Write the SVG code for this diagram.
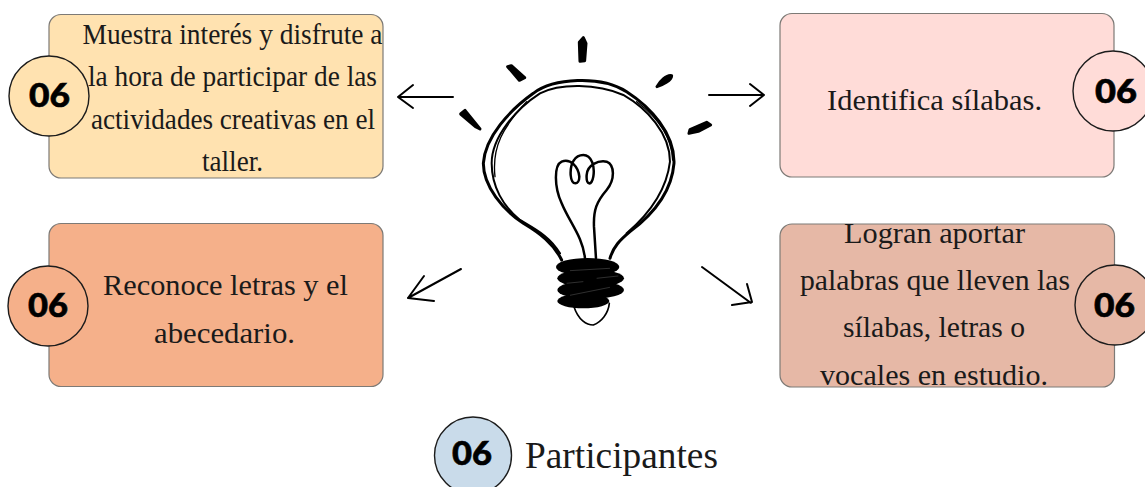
<svg xmlns="http://www.w3.org/2000/svg" width="1145" height="487" viewBox="0 0 1145 487">
<style>
.box{stroke:#7d7a76;stroke-width:1.2}
.dot{stroke:#1c1c1c;stroke-width:1.4}
.t{font-family:"Liberation Serif",serif;font-size:29px;fill:#1a1a1a}
.n{font-family:"Lato","Liberation Sans",sans-serif;font-weight:900;font-size:33px;fill:#000;stroke:#000;stroke-width:.6}
.arrow{fill:none;stroke:#000;stroke-width:2;stroke-linecap:round;stroke-linejoin:round}
.wire{fill:none;stroke:#000;stroke-linecap:round;stroke-linejoin:round}
.ray{stroke:#000;stroke-width:9;stroke-linejoin:round}
</style>
<rect width="1145" height="487" fill="#fff"/>
<g id="connectors">
<path class="arrow" d="M453 97H398M413 85L398 97L413 108"/>
<path class="arrow" d="M709 95H764M750 84L764 95L750 106"/>
<path class="arrow" d="M461 269L408 298M424 276L408 298L434 301"/>
<path class="arrow" d="M702 267L751 303M747 284L752 302L732 305"/>
</g>
<g id="node-top-left">
<rect class="box" x="49" y="14.500" width="334" height="163.500" rx="12" fill="#ffe2b0"/>
<circle class="dot" cx="49" cy="96" r="40" fill="#ffe2b0"/>
<text class="n" x="29" y="107" textLength="41" lengthAdjust="spacingAndGlyphs">06</text>
<text class="t" x="82.500" y="44" textLength="300" lengthAdjust="spacingAndGlyphs">Muestra interés y disfrute a</text>
<text class="t" x="88" y="86" textLength="289" lengthAdjust="spacingAndGlyphs">la hora de participar de las</text>
<text class="t" x="91" y="129" textLength="284" lengthAdjust="spacingAndGlyphs">actividades creativas en el</text>
<text class="t" x="202" y="171" textLength="61" lengthAdjust="spacingAndGlyphs">taller.</text>
</g>
<g id="node-top-right">
<rect class="box" x="780" y="13.500" width="334" height="163.500" rx="12" fill="#ffdcd8"/>
<circle class="dot" cx="1113" cy="91" r="40" fill="#ffdcd8"/>
<text class="n" x="1095" y="103" textLength="42" lengthAdjust="spacingAndGlyphs">06</text>
<text class="t" x="827" y="110" textLength="215" lengthAdjust="spacingAndGlyphs">Identifica sílabas.</text>
</g>
<g id="node-bottom-left">
<rect class="box" x="49" y="223.500" width="334" height="163" rx="12" fill="#f5b08a"/>
<circle class="dot" cx="48" cy="306" r="40" fill="#f5b08a"/>
<text class="n" x="28" y="317" textLength="40" lengthAdjust="spacingAndGlyphs">06</text>
<text class="t" x="103" y="295" textLength="245" lengthAdjust="spacingAndGlyphs">Reconoce letras y el</text>
<text class="t" x="154" y="343" textLength="141" lengthAdjust="spacingAndGlyphs">abecedario.</text>
</g>
<g id="node-bottom-right">
<rect class="box" x="780" y="224" width="334.500" height="163" rx="12" fill="#e6b8a6"/>
<circle class="dot" cx="1115" cy="305" r="40" fill="#e6b8a6"/>
<text class="n" x="1094" y="317" textLength="41" lengthAdjust="spacingAndGlyphs">06</text>
<text class="t" x="844" y="243" textLength="181" lengthAdjust="spacingAndGlyphs">Logran aportar</text>
<text class="t" x="800" y="290" textLength="270" lengthAdjust="spacingAndGlyphs">palabras que lleven las</text>
<text class="t" x="843" y="337" textLength="182" lengthAdjust="spacingAndGlyphs">sílabas, letras o</text>
<text class="t" x="820" y="385" textLength="228" lengthAdjust="spacingAndGlyphs">vocales en estudio.</text>
</g>
<g id="node-participants">
<circle class="dot" cx="473" cy="455.500" r="38.500" fill="#c9dbea"/>
<text class="n" x="452" y="465" textLength="40" lengthAdjust="spacingAndGlyphs">06</text>
<text class="t" x="525" y="468" textLength="193" lengthAdjust="spacingAndGlyphs" style="font-size:37px">Participantes</text>
</g>
<g id="node-bulb" transform="translate(450 20) scale(.3333)">
<path class="ray" d="M390 124L388 67L400 53L408 70L404 122Z"/>
<path class="ray" d="M173 140L184 137L224 173L208 181Z"/>
<path class="ray" d="M32 282L45 271L90 327L78 321Z"/>
<path class="ray" d="M621 200C630 184 650 163 665 167C665 181 637 195 621 200Z"/>
<path class="ray" d="M717 340L720 329L770 307L782 315L745 334Z"/>
<g class="wire">
<path stroke-width="9" d="M335 720C310 670 270 640 220 610C160 570 100 500 100 430C105 350 180 270 250 220C310 175 450 165 530 215C600 260 675 340 672 430C665 520 600 590 540 635C510 660 490 680 480 715"/>
<path stroke-width="6" d="M330 700C300 650 260 630 210 600C160 560 125 500 125 430C125 350 200 265 270 220C330 190 440 190 520 225C590 265 660 340 660 425C650 510 600 580 530 640"/>
<path stroke-width="4" d="M135 470C125 380 160 320 230 245M560 245C620 290 665 350 668 420"/>
<path stroke-width="7.500" d="M405 715C398 650 360 610 335 550C312 500 312 435 335 425C362 415 385 440 388 470C388 495 365 500 362 465C360 430 375 405 400 405C425 405 435 440 430 470C425 500 408 495 410 465C412 435 445 420 470 425C495 435 495 480 470 510C440 545 430 570 432 620L438 715"/>
<path stroke-width="5" d="M372 860C385 900 410 915 430 915C455 905 475 880 478 850"/>
</g>
<ellipse cx="413" cy="741" rx="95" ry="27"/>
<ellipse cx="422" cy="775" rx="100" ry="27"/>
<ellipse cx="422" cy="810" rx="100" ry="27"/>
<ellipse cx="400" cy="843" rx="78" ry="22"/>
<path d="M360 752L480 745M350 790L400 785M440 775L505 768M360 826L480 802" fill="none" stroke="#777" stroke-width="1.200"/>
</g>
</svg>
